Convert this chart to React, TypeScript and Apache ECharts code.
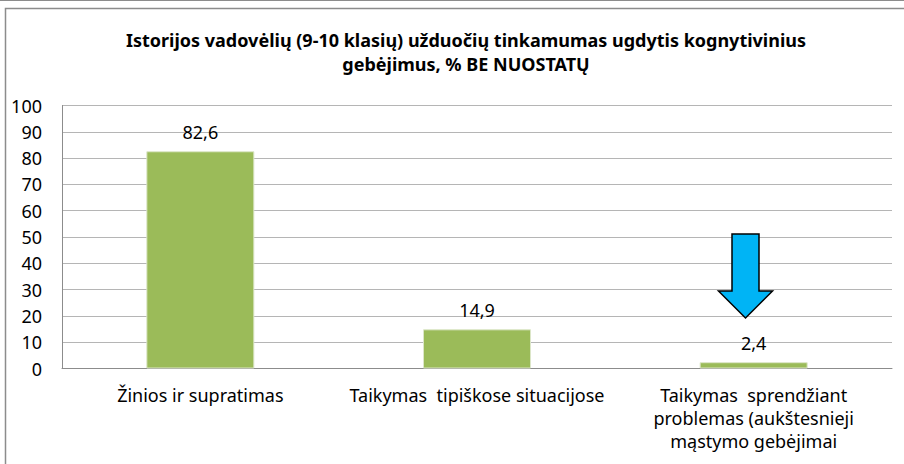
import React, { useEffect, useRef } from "react";
import * as echarts from "echarts";

const titleText =
  "Istorijos vadovėlių (9-10 klasių) užduočių tinkamumas ugdytis kognytivinius\ngebėjimus, % BE NUOSTATŲ";
const categories = [
  "Žinios ir supratimas",
  "Taikymas  tipiškose situacijose",
  "Taikymas  sprendžiant\nproblemas (aukštesnieji\nmąstymo gebėjimai",
];
const values = [82.6, 14.9, 2.4];
const yTicks = { min: 0, max: 100, interval: 10 };

const FONT = "'Noto Sans', 'Open Sans', sans-serif";

export default function App() {
  const ref = useRef<HTMLDivElement>(null);
  useEffect(() => {
    document.body.style.margin = "0";
    const chart = echarts.init(ref.current!, null, { renderer: "svg" });
    chart.setOption({
      animation: false,
      backgroundColor: "#ffffff",
      title: {
        text: titleText,
        left: 461,
        top: 23,
        textAlign: "center",
        textStyle: {
          fontFamily: FONT,
          fontWeight: "bold",
          fontSize: 18,
          lineHeight: 24,
          color: "#000000",
        },
      },
      grid: { left: 62, right: 12, top: 105.5, bottom: 95.5 },
      xAxis: {
        type: "category",
        data: categories,
        axisLine: { show: true, lineStyle: { color: "#8c8c8c", width: 1 } },
        axisTick: { show: false },
        axisLabel: {
          interval: 0,
          margin: 15,
          fontFamily: FONT,
          fontSize: 18,
          lineHeight: 23,
          color: "#000000",
        },
      },
      yAxis: {
        type: "value",
        min: yTicks.min,
        max: yTicks.max,
        interval: yTicks.interval,
        axisLine: { show: true, lineStyle: { color: "#8c8c8c", width: 1 } },
        axisTick: { show: false },
        splitLine: { show: true, lineStyle: { color: "#b5b5b5", width: 1 } },
        axisLabel: {
          margin: 20,
          fontFamily: FONT,
          fontSize: 18,
          color: "#000000",
        },
      },
      series: [
        {
          type: "bar",
          data: values,
          barWidth: 108,
          itemStyle: { color: "#9BBB59", borderColor: "#DCE6C8", borderWidth: 1 },
          label: {
            show: true,
            position: "top",
            distance: 10,
            fontFamily: FONT,
            fontSize: 18,
            color: "#000000",
            formatter: (p: any) => String(p.value).replace(".", ","),
          },
        },
      ],
      graphic: [
        {
          type: "line",
          shape: { x1: 0, y1: 0.5, x2: 904, y2: 0.5 },
          style: { stroke: "#8c8c8c", lineWidth: 1 },
          silent: true,
        },
        {
          type: "rect",
          shape: { x: 5.5, y: 8.5, width: 1000, height: 1000 },
          style: { fill: "none", stroke: "#8c8c8c", lineWidth: 1.5 },
          silent: true,
        },
        {
          type: "polygon",
          shape: {
            points: [
              [732, 234],
              [759, 234],
              [759, 291],
              [772.5, 291],
              [745.5, 318],
              [718.5, 291],
              [732, 291],
            ],
          },
          style: { fill: "#00B4F5", stroke: "#000000", lineWidth: 1.5 },
          silent: true,
          z: 10,
        },
      ],
    });
    return () => chart.dispose();
  }, []);
  return (
    <div
      ref={ref}
      style={{ position: "fixed", left: 0, top: 0, width: 904, height: 464 }}
    />
  );
}
